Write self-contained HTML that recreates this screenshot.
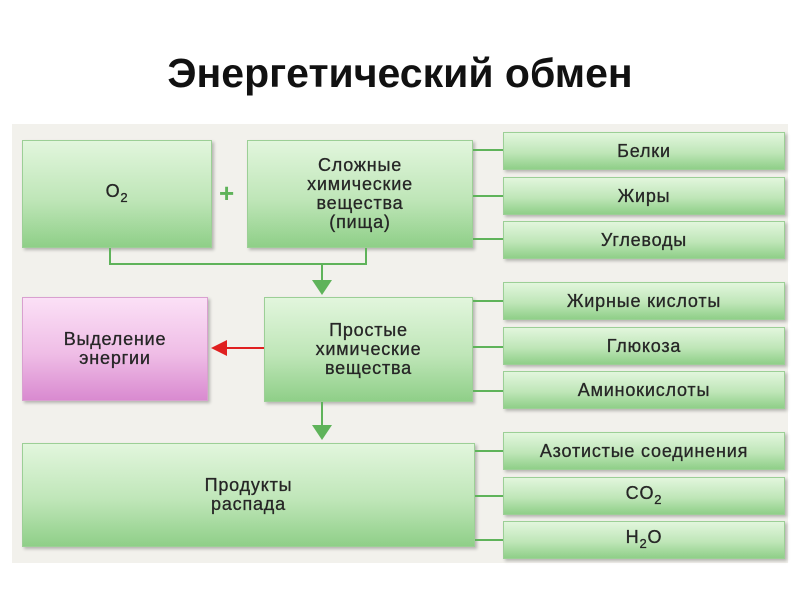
<!DOCTYPE html>
<html><head><meta charset="utf-8"><style>
body{margin:0;width:800px;height:600px;background:#fff;position:relative;overflow:hidden;font-family:"Liberation Sans","DejaVu Sans",sans-serif}
.t{position:absolute;left:0;width:800px;top:50px;text-align:center;font-size:41px;font-weight:bold;color:#111}
.panel{position:absolute;left:12px;top:124px;width:776px;height:439px;background:#f2f1ec}
.b{position:absolute;box-sizing:border-box;border:1px solid #9ccf96;background:linear-gradient(#e2f6dd,#bfe6b8 55%,#8fcf88);box-shadow:2px 2px 3px rgba(0,0,0,.25);display:flex;align-items:center;justify-content:center;text-align:center;color:#262626;font-size:18px;line-height:19px;letter-spacing:.8px;-webkit-text-stroke:.3px #262626}
.p{background:linear-gradient(#fbe0f6,#efbde6 55%,#d98ad0);border-color:#d9a0d0}
.l{position:absolute;background:#5fb35a}
sub{font-size:13px;vertical-align:-5px}
</style></head><body>
<div class="t">Энергетический обмен</div>
<div class="panel"></div>
<div class="b" style="left:22px;top:140px;width:190px;height:108px"><span>O<sub>2</sub></span></div>
<div style="position:absolute;left:219px;top:178px;color:#5fb35a;font-size:26px;font-weight:bold">+</div>
<div class="b" style="left:247px;top:140px;width:226px;height:108px"><span>Сложные<br>химические<br>вещества<br>(пища)</span></div>
<div class="b" style="left:503px;top:132px;width:282px;height:38px">Белки</div>
<div class="b" style="left:503px;top:177px;width:282px;height:38px">Жиры</div>
<div class="b" style="left:503px;top:221px;width:282px;height:38px">Углеводы</div>
<div class="l" style="left:109px;top:248px;width:2px;height:17px"></div>
<div class="l" style="left:365px;top:248px;width:2px;height:17px"></div>
<div class="l" style="left:109px;top:263px;width:258px;height:2px"></div>
<div class="l" style="left:321px;top:263px;width:2px;height:20px"></div>
<svg style="position:absolute;left:312px;top:280px" width="20" height="16"><polygon points="0,0 20,0 10,15" fill="#5fb35a"/></svg>
<div class="b p" style="left:22px;top:297px;width:186px;height:104px"><span>Выделение<br>энергии</span></div>
<div class="b" style="left:264px;top:297px;width:209px;height:105px"><span>Простые<br>химические<br>вещества</span></div>
<div class="b" style="left:503px;top:282px;width:282px;height:38px">Жирные кислоты</div>
<div class="b" style="left:503px;top:327px;width:282px;height:38px">Глюкоза</div>
<div class="b" style="left:503px;top:371px;width:282px;height:38px">Аминокислоты</div>
<div style="position:absolute;left:222px;top:347px;width:42px;height:2px;background:#e02020"></div>
<svg style="position:absolute;left:211px;top:340px" width="16" height="16"><polygon points="0,8 16,0 16,16" fill="#e02020"/></svg>
<div class="l" style="left:321px;top:402px;width:2px;height:26px"></div>
<svg style="position:absolute;left:312px;top:425px" width="20" height="16"><polygon points="0,0 20,0 10,15" fill="#5fb35a"/></svg>
<div class="b" style="left:22px;top:443px;width:453px;height:104px"><span>Продукты<br>распада</span></div>
<div class="b" style="left:503px;top:432px;width:282px;height:38px">Азотистые соединения</div>
<div class="b" style="left:503px;top:477px;width:282px;height:38px"><span>CO<sub>2</sub></span></div>
<div class="b" style="left:503px;top:521px;width:282px;height:38px"><span>H<sub>2</sub>O</span></div>
<div class="l" style="left:473px;top:149px;width:30px;height:2px"></div>
<div class="l" style="left:473px;top:195px;width:30px;height:2px"></div>
<div class="l" style="left:473px;top:238px;width:30px;height:2px"></div>
<div class="l" style="left:473px;top:300px;width:30px;height:2px"></div>
<div class="l" style="left:473px;top:346px;width:30px;height:2px"></div>
<div class="l" style="left:473px;top:390px;width:30px;height:2px"></div>
<div class="l" style="left:475px;top:450px;width:28px;height:2px"></div>
<div class="l" style="left:475px;top:495px;width:28px;height:2px"></div>
<div class="l" style="left:475px;top:539px;width:28px;height:2px"></div>
</body></html>
